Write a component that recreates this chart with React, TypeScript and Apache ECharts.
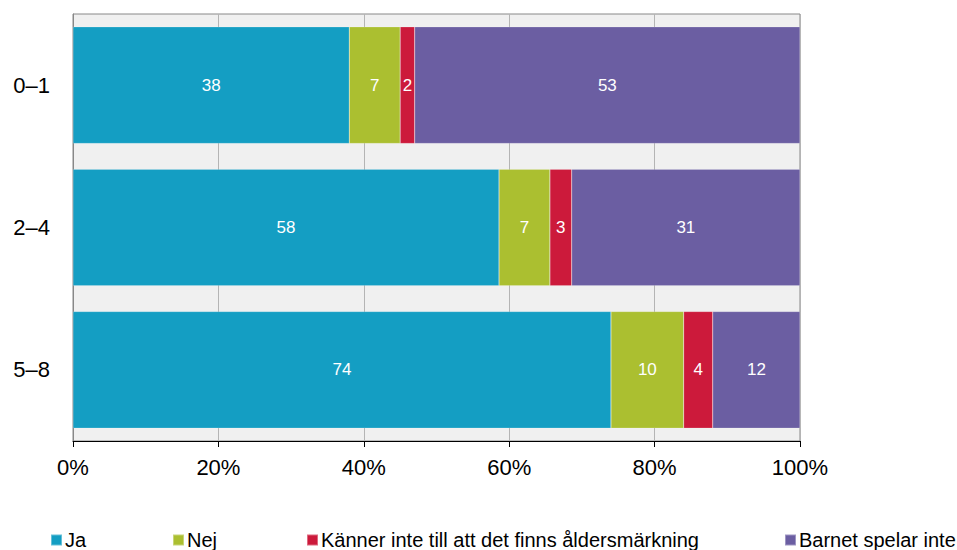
import React, { useEffect, useRef } from "react";
import * as echarts from "echarts";

const categories = ["0–1", "2–4", "5–8"];
const seriesNames = [
  "Ja",
  "Nej",
  "Känner inte till att det finns åldersmärkning",
  "Barnet spelar inte",
];
const ja = [38, 58.6, 74];
const nej = [7, 7, 10];
const kanner = [2, 3, 4];
const spelarInte = [53, 31.4, 12];
const colors = ["#149ec3", "#abbf30", "#cc1a3b", "#6b5ea2"];
const tickLabels = ["0%", "20%", "40%", "60%", "80%", "100%"];
const legendLefts = [50, 172, 306, 784];

export default function App() {
  const ref = useRef<HTMLDivElement>(null);
  useEffect(() => {
    const chart = echarts.init(ref.current!, undefined, { renderer: "svg" });
    const values = [ja, nej, kanner, spelarInte];
    const font = "Liberation Sans, Arial, sans-serif";
    chart.setOption({
      animation: false,
      textStyle: { fontFamily: font },
      grid: {
        left: 73,
        right: 157,
        top: 14,
        bottom: 109,
        show: true,
        backgroundColor: "#f0f0f0",
        borderColor: "#888888",
        borderWidth: 1,
      },
      legend: seriesNames.map((n, i) => ({
        data: [n],
        left: legendLefts[i],
        top: 530,
        itemWidth: 11,
        itemHeight: 11,
        itemGap: 4,
        icon: "rect",
        textStyle: { fontSize: 20, color: "#000", fontFamily: font, padding: [0, 0, 0, -2] },
        padding: 0,
      })),
      xAxis: {
        type: "value",
        min: 0,
        max: 100,
        interval: 20,
        axisLine: { show: true, lineStyle: { color: "#000", width: 1 } },
        axisTick: { show: true, length: 6, lineStyle: { color: "#000" } },
        splitLine: { show: true, lineStyle: { color: "#b4b4b4", width: 1 } },
        axisLabel: {
          fontSize: 22,
          color: "#000",
          margin: 15,
          formatter: (v: number) => tickLabels[Math.round(v / 20)],
        },
      },
      yAxis: {
        type: "category",
        data: categories,
        inverse: true,
        axisLine: { show: true, lineStyle: { color: "#888888" } },
        axisTick: { show: false },
        axisLabel: { fontSize: 22, color: "#000", margin: 23 },
      },
      series: seriesNames.map((n, i) => ({
        name: n,
        type: "bar",
        stack: "total",
        barWidth: "82%",
        itemStyle: { color: colors[i], borderColor: "rgba(255,255,255,0.35)", borderWidth: 0.5 },
        label: {
          show: true,
          position: "inside",
          color: "#fff",
          fontSize: 17,
          fontFamily: font,
          formatter: (p: any) => String(Math.floor(p.value)),
        },
        data: values[i],
      })),
    });
    return () => chart.dispose();
  }, []);
  return <div ref={ref} style={{ width: 957, height: 550, position: "absolute", left: 0, top: 0 }} />;
}
